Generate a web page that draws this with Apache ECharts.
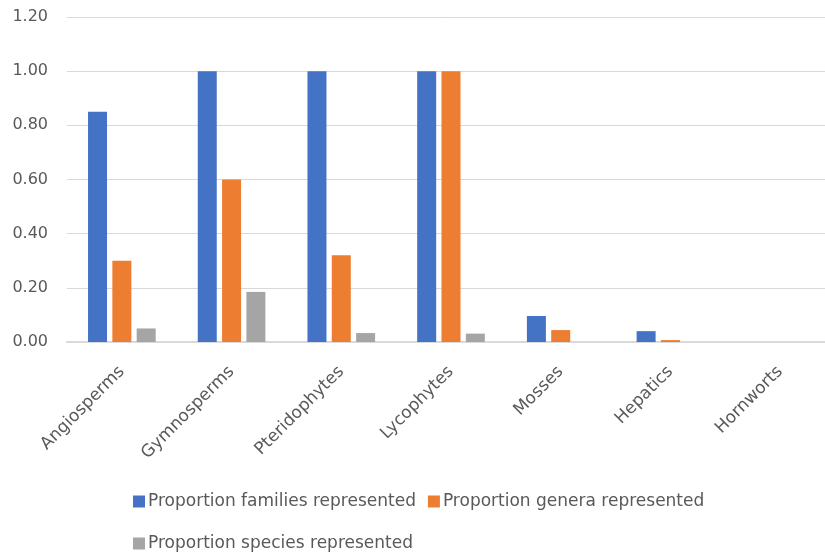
<!DOCTYPE html>
<html>
<head>
<meta charset="utf-8">
<script src="https://cdn.jsdelivr.net/npm/echarts@6/dist/echarts.min.js"></script>
<style>
  html, body { margin: 0; padding: 0; background: #fff; }
  #chart { width: 825px; height: 556px; }
</style>
</head>
<body>
<div id="chart"></div>
<script>
// Plant groups and the share of each represented at family, genus and species level
const categories = ['Angiosperms', 'Gymnosperms', 'Pteridophytes', 'Lycophytes', 'Mosses', 'Hepatics', 'Hornworts'];
const familiesShare = [0.85, 1.00, 1.00, 1.00, 0.096, 0.04, 0];
const generaShare   = [0.30, 0.60, 0.32, 1.00, 0.044, 0.007, 0];
const speciesShare  = [0.05, 0.185, 0.033, 0.031, 0, 0, 0];
const seriesNames = ['Proportion families represented', 'Proportion genera represented', 'Proportion species represented'];
const colors = ['#4472c4', '#ed7d31', '#a5a5a5'];

const font = '"DejaVu Sans", sans-serif';
const textColor = '#595959';

const chart = echarts.init(document.getElementById('chart'));

function barSeries(name, data, color) {
  return {
    name: name,
    type: 'bar',
    data: data,
    barWidth: 19,
    barGap: '28%',
    itemStyle: { color: color },
    emphasis: { disabled: true }
  };
}

const legendText = { color: textColor, fontFamily: font, fontSize: 17, padding: [0, 0, 0, -2] };

chart.setOption({
  animation: false,
  color: colors,
  // the plot runs slightly past the right edge of the canvas
  grid: { left: 67, top: 17, width: 768, height: 325, containLabel: false, outerBoundsMode: 'none' },
  xAxis: {
    type: 'category',
    data: categories,
    axisLine: { lineStyle: { color: '#d9d9d9', width: 2 } },
    axisTick: { show: false },
    axisLabel: {
      interval: 0,
      rotate: 45,
      color: textColor,
      fontFamily: font,
      fontSize: 17,
      margin: 27
    }
  },
  yAxis: {
    type: 'value',
    min: 0,
    max: 1.2,
    interval: 0.2,
    axisLine: { show: false },
    axisTick: { show: false },
    splitLine: { lineStyle: { color: '#d9d9d9', width: 1 } },
    axisLabel: {
      color: textColor,
      fontFamily: font,
      fontSize: 16,
      margin: 19,
      formatter: v => v.toFixed(2)
    }
  },
  legend: [
    {
      data: [seriesNames[0], seriesNames[1]],
      left: 128,
      top: 488,
      icon: 'rect',
      itemWidth: 12,
      itemHeight: 12,
      itemGap: 12,
      textStyle: legendText
    },
    {
      data: [seriesNames[2]],
      left: 128,
      top: 530,
      icon: 'rect',
      itemWidth: 12,
      itemHeight: 12,
      textStyle: legendText
    }
  ],
  series: [
    barSeries(seriesNames[0], familiesShare, colors[0]),
    barSeries(seriesNames[1], generaShare, colors[1]),
    barSeries(seriesNames[2], speciesShare, colors[2])
  ]
});
</script>
</body>
</html>
